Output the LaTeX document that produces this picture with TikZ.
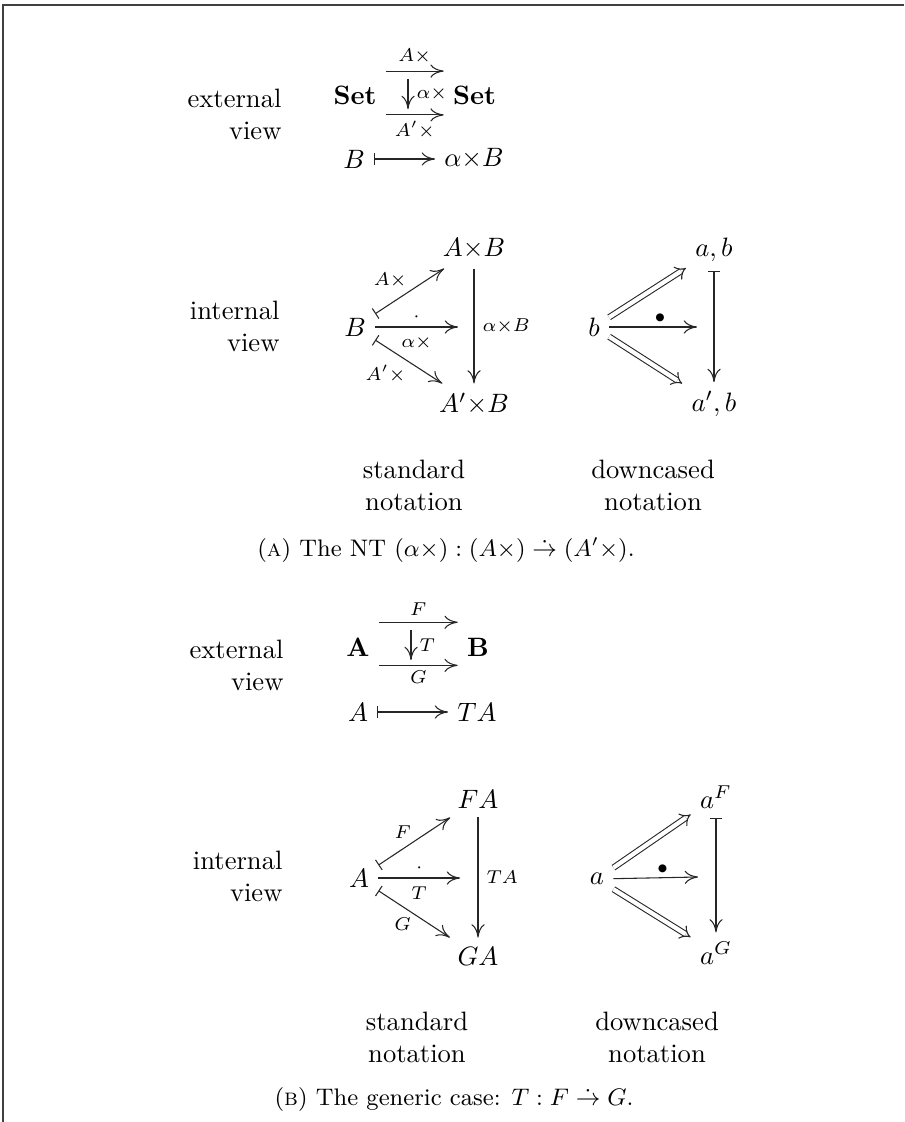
\documentclass[tikz,border=0pt]{standalone}
\usepackage{amsmath}
\usetikzlibrary{arrows.meta}
\begin{document}
\begin{tikzpicture}[x=0.376pt,y=-0.376pt,
  ar/.style={line width=0.4pt, draw=black!85, -{To[length=5pt,width=5pt]}},
  mapar/.style={line width=0.4pt, draw=black!85, {Bar[width=4.5pt]}-{To[length=5pt,width=5pt]}},
  dbl/.style={double, double distance=1.6pt, line width=0.4pt, draw=black!85, -{Implies[length=4pt]}},
  lbl/.style={font=\scriptsize, inner sep=1pt},
  side/.style={align=right, inner sep=0pt, anchor=east},
  bot/.style={align=center, inner sep=0pt},
  capt/.style={font=\small, inner sep=0pt}
]
\useasboundingbox (0,0) rectangle (904,1122);
\draw[line width=0.7pt, black!75] (3,1122) -- (3,5) -- (904,5);

% ---------- (a) external view
\node[side] (extA) at (282,114) {external\\view};
\node (set1) at (355,95) {$\mathbf{Set}$};
\node (set2) at (474.5,95) {$\mathbf{Set}$};
\draw[ar] ([yshift=9pt]set1.east) -- node[lbl, above=1.5pt] {$A\times$} ([yshift=9pt]set2.west);
\draw[ar] ([yshift=-7.5pt]set1.east) -- node[lbl, below=1pt] {$A'\times$} ([yshift=-7.5pt]set2.west);
\coordinate (a2s) at (408,79);
\coordinate (a2e) at (408,109);
\draw[ar] (a2s) -- node[lbl, right=2pt] {$\alpha\times$} (a2e);
\node (mB) at (354,159) {$B$};
\node (mAB) at (474,159) {$\alpha{\times}B$};
\draw[mapar] (mB) -- (mAB);

% ---------- (a) internal view
\node[side] (intA) at (280,326) {internal\\view};
\node (iB) at (355,327) {$B$};
\node (iAB) at (474,249) {$A{\times}B$};
\node (iApB) at (474,404) {$A'{\times}B$};
\coordinate (iM) at (458,327);
\draw[mapar] (iB) -- node[lbl, above left=0pt] {$A\times$} (iAB);
\draw[mapar] (iB) -- node[lbl, below left=0pt] {$A'\times$} (iApB);
\draw[ar] (iB) -- node[lbl, above=1pt] {$\cdot$} node[lbl, below=2pt] {$\alpha\times$} (iM);
\draw[ar] (iAB) -- node[lbl, right=2pt] {$\alpha{\times}B$} (iApB);

% ---------- (a) downcased
\node (db) at (594,327) {$b$};
\node (dab) at (714,250) {$a,b$};
\node (dapb) at (714,404) {$a',b$};
\coordinate (dM) at (697,327);
\draw[dbl] (db) -- (dab);
\draw[dbl] (db) -- (dapb);
\draw[ar] (db) -- node[pos=0.58, above=1.5pt, inner sep=0pt, font=\scriptsize] {$\bullet$} (dM);
\draw[mapar] (dab) -- (dapb);

\node[bot] (stA) at (414,485) {standard\\notation};
\node[bot] (dcA) at (653,485) {downcased\\notation};
\node[capt] (capA) at (446,550) {(\textsc{a}) The NT $(\alpha\times) : (A\times) \mathrel{\dot{\to}} (A'\times)$.};

% ---------- (b) external view
\node[side] (extB) at (284,665) {external\\view};
\node (bA) at (358,647) {$\mathbf{A}$};
\node (bB) at (478,647) {$\mathbf{B}$};
\draw[ar] ([yshift=9.3pt]bA.east) -- node[lbl, above=1.5pt] {$F$} ([yshift=9.3pt]bB.west);
\draw[ar] ([yshift=-6.9pt]bA.east) -- node[lbl, below=1pt] {$G$} ([yshift=-6.9pt]bB.west);
\coordinate (b2s) at (411,630);
\coordinate (b2e) at (411,660);
\draw[ar] (b2s) -- node[lbl, right=2pt] {$T$} (b2e);
\node (mA) at (358,712) {$A$};
\node (mTA) at (477,712) {$TA$};
\draw[mapar] (mA) -- (mTA);

% ---------- (b) internal view
\node[side] (intB) at (283,876) {internal\\view};
\node (jA) at (359,878) {$A$};
\node (jFA) at (478,799) {$FA$};
\node (jGA) at (478,956) {$GA$};
\coordinate (jM) at (460,878);
\draw[mapar] (jA) -- node[lbl, above left=0pt] {$F$} (jFA);
\draw[mapar] (jA) -- node[lbl, below left=0pt] {$G$} (jGA);
\draw[ar] (jA) -- node[lbl, above=1pt] {$\cdot$} node[lbl, below=2pt] {$T$} (jM);
\draw[ar] (jFA) -- node[lbl, right=2pt] {$TA$} (jGA);

% ---------- (b) downcased
\node (ea) at (597,879) {$a$};
\node (eaF) at (716,797) {$a^F$};
\node (eaG) at (716,953) {$a^G$};
\coordinate (eM) at (698,877);
\draw[dbl] (ea) -- (eaF);
\draw[dbl] (ea) -- (eaG);
\draw[ar] (ea) -- node[pos=0.58, above=1.5pt, inner sep=0pt, font=\scriptsize] {$\bullet$} (eM);
\draw[mapar] (eaF) -- (eaG);

\node[bot] (stB) at (417,1037) {standard\\notation};
\node[bot] (dcB) at (657,1037) {downcased\\notation};
\node[capt] (capB) at (454,1099) {(\textsc{b}) The generic case: $T : F \mathrel{\dot{\to}} G$.};
\end{tikzpicture}
\end{document}
